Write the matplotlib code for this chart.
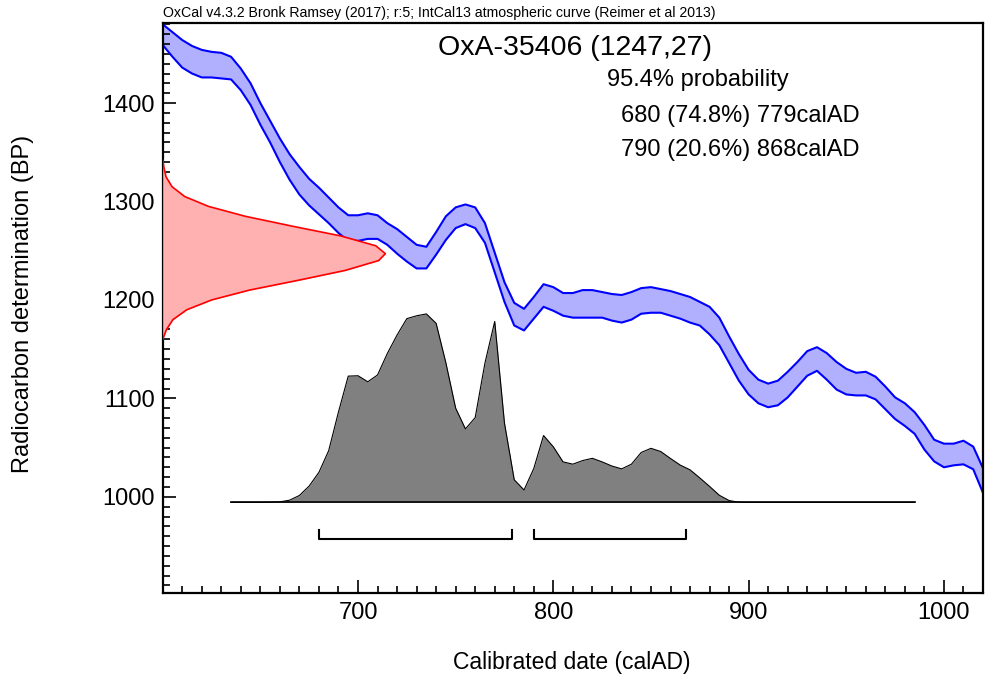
import matplotlib
matplotlib.use("Agg")
import matplotlib.pyplot as plt
from matplotlib.ticker import FixedLocator, MultipleLocator

plt.rcParams['font.family'] = ['Liberation Sans', 'DejaVu Sans']

# IntCal13 band (upper / lower edge, BP) on a 5 year grid
cal_years = list(range(600, 1025, 5))
curve_upper = [1480, 1472, 1464, 1458, 1454, 1452, 1451, 1447, 1435, 1420,
               1400, 1382, 1364, 1348, 1335, 1323, 1314, 1304, 1294, 1286,
               1286, 1288, 1286, 1278, 1272, 1264, 1256, 1254, 1269, 1285,
               1294, 1297, 1294, 1278, 1248, 1218, 1197, 1191, 1203, 1216,
               1213, 1207, 1207, 1210, 1210, 1208, 1206, 1205, 1208, 1212,
               1213, 1211, 1209, 1206, 1203, 1198, 1193, 1182, 1163, 1145,
               1129, 1119, 1115, 1118, 1127, 1137, 1148, 1152, 1146, 1137,
               1130, 1126, 1127, 1122, 1112, 1101, 1095, 1086, 1073, 1058,
               1054, 1054, 1057, 1051, 1029]
curve_lower = [1459, 1447, 1436, 1430, 1426, 1426, 1425, 1424, 1413, 1398,
               1378, 1360, 1340, 1322, 1307, 1296, 1287, 1278, 1268, 1260,
               1260, 1262, 1262, 1256, 1247, 1239, 1232, 1232, 1246, 1261,
               1273, 1277, 1273, 1258, 1228, 1198, 1174, 1169, 1181, 1193,
               1189, 1184, 1182, 1182, 1182, 1182, 1179, 1177, 1180, 1186,
               1187, 1187, 1184, 1181, 1177, 1174, 1165, 1154, 1136, 1118,
               1104, 1095, 1091, 1093, 1101, 1112, 1123, 1128, 1119, 1109,
               1104, 1103, 1103, 1099, 1089, 1079, 1072, 1064, 1048, 1036,
               1030, 1032, 1033, 1028, 1004]

# radiocarbon measurement 1247 +/- 27 (relative probability)
c14_bp = [1160, 1170, 1180, 1190, 1200, 1210, 1220, 1230, 1240, 1247,
          1255, 1265, 1275, 1285, 1295, 1305, 1315, 1325, 1335, 1342]
c14_prob = [0.0, 0.017, 0.046, 0.108, 0.22, 0.39, 0.61, 0.82, 0.97, 1.0,
            0.957, 0.80, 0.58, 0.37, 0.206, 0.099, 0.042, 0.015, 0.005, 0.0]

# calibrated date distribution (relative probability)
post_years = list(range(635, 990, 5))
post_prob = [0, 0, 0, 0, 0.001, 0.003, 0.012, 0.037, 0.087, 0.16,
             0.275, 0.48, 0.67, 0.672, 0.64, 0.676, 0.79, 0.888, 0.975, 0.99,
             1.0, 0.95, 0.74, 0.50, 0.39, 0.45, 0.74, 0.96, 0.42, 0.12,
             0.066, 0.18, 0.355, 0.295, 0.215, 0.203, 0.222, 0.234, 0.215, 0.193,
             0.178, 0.203, 0.265, 0.287, 0.27, 0.233, 0.198, 0.173, 0.13, 0.085,
             0.038, 0.01, 0.001, 0, 0, 0, 0, 0, 0, 0,
             0, 0, 0, 0, 0, 0, 0, 0, 0, 0, 0]

# 95.4% ranges
ranges = [(680, 779), (790, 868)]

XMIN, XMAX = 600, 1020
YMIN, YMAX = 902, 1481

fig = plt.figure(figsize=(9.86, 6.78), dpi=100)
ax = fig.add_axes([162.7/986, 1-593.3/678, (983-162.7)/986, (593.3-23.3)/678])

# calibration curve
ax.fill_between(cal_years, curve_lower, curve_upper, color='#b0b0ff', lw=0, zorder=1)
ax.plot(cal_years, curve_upper, color='#0000ff', lw=1.5, zorder=2)
ax.plot(cal_years, curve_lower, color='#0000ff', lw=1.5, zorder=2)

# measurement on y axis
c14_w = [XMIN + 114*p for p in c14_prob]
ax.fill_betweenx(c14_bp, XMIN, c14_w, color='#ffb0b0', lw=0, zorder=3)
ax.plot(c14_w, c14_bp, color='#ff0000', lw=1.2, zorder=4)

# calibrated distribution
base = 994.3
post_h = [base + 191.5*p for p in post_prob]
ax.fill_between(post_years, base, post_h, color='#808080', lw=0, zorder=5)
ax.plot(post_years, post_h, color='k', lw=0.8, zorder=6)
ax.plot([post_years[0], post_years[-1]], [base, base], color='k', lw=1.2, zorder=6)

# range brackets
for a, b in ranges:
    ax.plot([a, a, b, b], [966, 957, 957, 966], color='k', lw=1.5, zorder=6)

ax.set_xlim(XMIN, XMAX)
ax.set_ylim(YMIN, YMAX)
ax.xaxis.set_major_locator(FixedLocator([700, 800, 900, 1000]))
ax.xaxis.set_minor_locator(MultipleLocator(10))
ax.yaxis.set_major_locator(FixedLocator([1000, 1100, 1200, 1300, 1400]))
ax.yaxis.set_minor_locator(MultipleLocator(10))
ax.tick_params(which='both', direction='in', width=1.2, labelsize=17)
ax.tick_params(which='major', length=9.5)
ax.tick_params(which='minor', length=5)
ax.tick_params(axis='y', pad=5.5)
ax.tick_params(axis='x', pad=6)
for s in ax.spines.values():
    s.set_linewidth(1.6)

fig.text(572/986, 1-663/678, 'Calibrated date (calAD)', fontsize=16.5, ha='center', va='center')
fig.text(23/986, 1-304/678, 'Radiocarbon determination (BP)', fontsize=17, rotation=90,
         ha='center', va='center')

fig.text(162.7/986, 1-13/678, 'OxCal v4.3.2 Bronk Ramsey (2017); r:5; IntCal13 atmospheric curve (Reimer et al 2013)',
         fontsize=10.2, ha='left', va='center')
fig.text(575/986, 1-48/678, 'OxA-35406 (1247,27)', fontsize=20.5, ha='center', va='center')
fig.text(607/986, 1-80/678, '95.4% probability', fontsize=17, ha='left', va='center')
fig.text(621/986, 1-116/678, '680 (74.8%) 779calAD', fontsize=17, ha='left', va='center')
fig.text(621/986, 1-150/678, '790 (20.6%) 868calAD', fontsize=17, ha='left', va='center')

fig.savefig('out.png', dpi=100)
